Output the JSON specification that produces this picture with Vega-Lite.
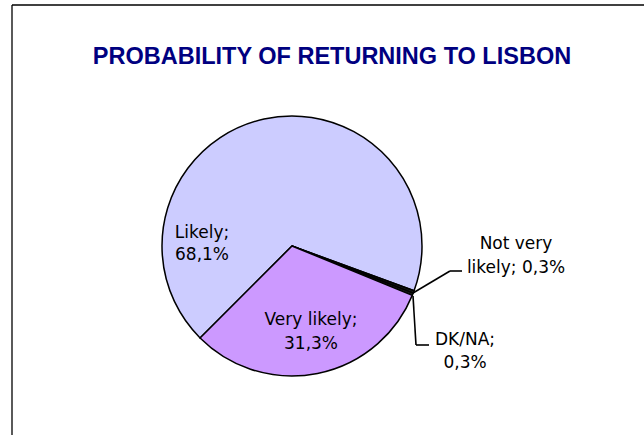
{
  "$schema": "https://vega.github.io/schema/vega-lite/v6.json",
  "width": 640,
  "height": 440,
  "autosize": {"type": "none"},
  "padding": {"left": 12, "top": 5, "right": 0, "bottom": 0},
  "background": "white",
  "view": {"stroke": null},
  "title": {
    "text": "PROBABILITY OF RETURNING TO LISBON",
    "font": "Liberation Sans",
    "fontSize": 23.5,
    "fontWeight": "bold",
    "color": "#000080",
    "anchor": "middle",
    "frame": "group",
    "orient": "top",
    "baseline": "alphabetic",
    "offset": -83
  },
  "datasets": {
    "responses": [
      {"category": "Likely", "value": 68.1, "label": "Likely;\n68,1%"},
      {"category": "Not very likely", "value": 0.3, "label": "Not very\nlikely; 0,3%"},
      {"category": "DK/NA", "value": 0.3, "label": "DK/NA;\n0,3%"},
      {"category": "Very likely", "value": 31.3, "label": "Very likely;\n31,3%"}
    ]
  },
  "data": {"name": "responses"},
  "transform": [{"window": [{"op": "row_number", "as": "idx"}]}],
  "layer": [
    {
      "transform": [{"filter": "datum.idx === 1"}],
      "mark": {"type": "rule", "stroke": "#000000", "strokeWidth": 1.3},
      "encoding": {"x": {"value": 0}, "x2": {"value": 640}, "y": {"value": 0}, "y2": {"value": 0}}
    },
    {
      "transform": [{"filter": "datum.idx === 1"}],
      "mark": {"type": "rule", "stroke": "#000000", "strokeWidth": 1.3},
      "encoding": {"x": {"value": 0}, "x2": {"value": 0}, "y": {"value": 0}, "y2": {"value": 440}}
    },
    {
      "mark": {"type": "arc", "outerRadius": 130, "x": 280, "y": 241, "stroke": "#000000", "strokeWidth": 1.5},
      "encoding": {
        "theta": {"field": "value", "type": "quantitative", "stack": true, "scale": {"range": [3.927, 10.2102]}},
        "color": {
          "field": "category",
          "type": "nominal",
          "scale": {"domain": ["Likely", "Very likely", "Not very likely", "DK/NA"], "range": ["#CCCCFF", "#CC99FF", "#1a1a1a", "#1a1a1a"]},
          "legend": null
        },
        "order": {"field": "idx", "type": "quantitative"}
      }
    },
    {
      "transform": [{"filter": "datum.category === 'Likely'"}],
      "mark": {"type": "text", "x": 190, "y": 233, "align": "center", "baseline": "alphabetic", "font": "DejaVu Sans", "fontSize": 17, "lineBreak": "\n", "lineHeight": 22, "color": "#000000"},
      "encoding": {"text": {"field": "label"}}
    },
    {
      "transform": [{"filter": "datum.category === 'Very likely'"}],
      "mark": {"type": "text", "x": 299, "y": 320, "align": "center", "baseline": "alphabetic", "font": "DejaVu Sans", "fontSize": 17, "lineBreak": "\n", "lineHeight": 24, "color": "#000000"},
      "encoding": {"text": {"field": "label"}}
    },
    {
      "transform": [{"filter": "datum.category === 'Not very likely'"}],
      "mark": {"type": "text", "x": 504, "y": 244, "align": "center", "baseline": "alphabetic", "font": "DejaVu Sans", "fontSize": 17, "lineBreak": "\n", "lineHeight": 24, "color": "#000000"},
      "encoding": {"text": {"field": "label"}}
    },
    {
      "transform": [{"filter": "datum.category === 'DK/NA'"}],
      "mark": {"type": "text", "x": 453, "y": 340, "align": "center", "baseline": "alphabetic", "font": "DejaVu Sans", "fontSize": 17, "lineBreak": "\n", "lineHeight": 23, "color": "#000000"},
      "encoding": {"text": {"field": "label"}}
    },
    {
      "transform": [{"filter": "datum.category === 'Not very likely'"}],
      "mark": {"type": "rule", "stroke": "#000000", "strokeWidth": 1.6},
      "encoding": {"x": {"value": 401}, "y": {"value": 288}, "x2": {"value": 438}, "y2": {"value": 266}}
    },
    {
      "transform": [{"filter": "datum.category === 'Not very likely'"}],
      "mark": {"type": "rule", "stroke": "#000000", "strokeWidth": 1.6},
      "encoding": {"x": {"value": 438}, "y": {"value": 266}, "x2": {"value": 450}, "y2": {"value": 266}}
    },
    {
      "transform": [{"filter": "datum.category === 'DK/NA'"}],
      "mark": {"type": "rule", "stroke": "#000000", "strokeWidth": 1.6},
      "encoding": {"x": {"value": 401}, "y": {"value": 291}, "x2": {"value": 404}, "y2": {"value": 340}}
    },
    {
      "transform": [{"filter": "datum.category === 'DK/NA'"}],
      "mark": {"type": "rule", "stroke": "#000000", "strokeWidth": 1.6},
      "encoding": {"x": {"value": 404}, "y": {"value": 340}, "x2": {"value": 417}, "y2": {"value": 340}}
    }
  ]
}
